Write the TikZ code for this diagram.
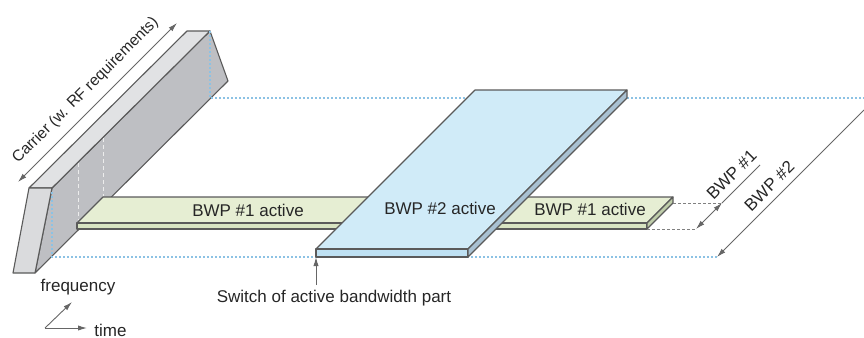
\documentclass[tikz,border=0pt]{standalone}
\usepackage{fontspec}
\setmainfont{Liberation Sans}
\usetikzlibrary{arrows.meta,calc}
\definecolor{edgegray}{HTML}{5A5A5A}
\definecolor{cartop}{HTML}{E1E2E4}
\definecolor{carside}{HTML}{BEBFC3}
\definecolor{carend}{HTML}{DADBDD}
\definecolor{bwpgreen}{HTML}{E6EED3}
\definecolor{bwpgreenfront}{HTML}{D8E4C2}
\definecolor{bwpgreenside}{HTML}{BFCDAA}
\definecolor{bwpblue}{HTML}{D0EBF8}
\definecolor{bwpbluefront}{HTML}{BFE1F3}
\definecolor{bwpblueside}{HTML}{A9C1D2}
\definecolor{hintblue}{HTML}{8CC2E4}

\begin{document}
\begin{tikzpicture}[
  x=0.5pt, y=-0.5pt,
  >={Latex[length=4.5pt,width=2.6pt]},
  face/.style={draw=edgegray, line width=0.55pt, line join=round},
  hint/.style={draw=hintblue, line width=0.6pt, dash pattern=on 1pt off 1pt},
  hidden/.style={draw=white!85!gray, line width=0.5pt, dash pattern=on 2pt off 1.5pt},
  guide/.style={draw=gray, line width=0.4pt, dash pattern=on 1.5pt off 1pt},
  dim/.style={draw=black!60, line width=0.45pt},
  lbl/.style={font=\fontsize{8.5}{10}\selectfont, text=black!85, inner sep=1pt}
]
  \useasboundingbox (0,0) rectangle (864,338);

  % Carrier block
  \coordinate (c1) at (29,188);
  \coordinate (c2) at (52,188);
  \coordinate (c3) at (35,273);
  \coordinate (c4) at (13,273);
  \coordinate (c5) at (187,31);
  \coordinate (c6) at (210,31);
  \coordinate (c7) at (228,81);
  \draw[face, fill=carside] (c2) -- (c6) -- (c7) -- (c3) -- cycle;
  \draw[face, fill=cartop] (c1) -- (c2) -- (c6) -- (c5) -- cycle;
  \draw[face, fill=carend] (c1) -- (c2) -- (c3) -- (c4) -- cycle;

  % Hidden lines and extents
  \draw[hidden] (78,163) -- (78,220);
  \draw[hidden] (103,138) -- (103,196);
  \coordinate (hb0) at (52,257);
  \coordinate (hb1) at (717,257);
  \coordinate (ht0) at (210,98);
  \coordinate (ht1) at (864,98);
  \draw[hint] (52,192) -- (hb0) -- (hb1);
  \draw[hint] (c6) -- (ht0) -- (ht1);

  % BWP #1 strip
  \coordinate (g1) at (77,223);
  \coordinate (g2) at (647,223);
  \coordinate (g3) at (673,197);
  \coordinate (g4) at (103,197);
  \coordinate (g5) at (647,229);
  \coordinate (g6) at (77,229);
  \coordinate (g7) at (673,203);
  \draw[face, fill=bwpgreen] (g1) -- (g2) -- (g3) -- (g4) -- cycle;
  \draw[face, fill=bwpgreenfront] (g1) -- (g2) -- (g5) -- (g6) -- cycle;
  \draw[face, fill=bwpgreenside] (g2) -- (g3) -- (g7) -- (g5) -- cycle;

  % BWP #2 plate
  \coordinate (b1) at (316,249);
  \coordinate (b2) at (468,249);
  \coordinate (b3) at (627,90);
  \coordinate (b4) at (475,90);
  \coordinate (b5) at (468,257);
  \coordinate (b6) at (316,257);
  \coordinate (b7) at (627,98);
  \draw[face, fill=bwpblue] (b1) -- (b2) -- (b3) -- (b4) -- cycle;
  \draw[face, fill=bwpbluefront] (b1) -- (b2) -- (b5) -- (b6) -- cycle;
  \draw[face, fill=bwpblueside] (b2) -- (b3) -- (b7) -- (b5) -- cycle;

  \node[lbl] (left1) at (248,210) {BWP \#1 active};
  \node[lbl] (mid2) at (440,208) {BWP \#2 active};
  \node[lbl] (right1) at (590,209) {BWP \#1 active};

  % Carrier dimension
  \coordinate (ca0) at (18,182);
  \coordinate (ca1) at (177,23);
  \draw[dim, <->] (ca0) -- node[lbl, font=\fontsize{7.8}{9}\selectfont, sloped, above=3.5pt, pos=0.5] (carrier) {Carrier (w. RF requirements)} (ca1);

  % BWP dimensions
  \coordinate (d1) at (722,203);
  \coordinate (d2) at (696,229);
  \coordinate (d3) at (760,165);
  \draw[guide] (g7) -- (d1);
  \draw[guide] (g5) -- (d2);
  \draw[dim, <->] (d2) -- (d1);
  \draw[dim] (d1) -- node[lbl, sloped, above=2.5pt, pos=0.5] (bwp1) {BWP \#1} (d3);
  \coordinate (e1) at (864,110);
  \draw[dim, ->] (e1) -- node[lbl, sloped, above=2.5pt, pos=0.58] (bwp2) {BWP \#2} (hb1);

  % Switch marker
  \coordinate (sw) at (316,285);
  \draw[dim, ->] (sw) -- (b6);
  \node[lbl] (switch) at (334,298) {Switch of active bandwidth part};

  % Axes legend
  \coordinate (lg) at (45,328);
  \coordinate (lgt) at (87,328);
  \coordinate (lgf) at (72,302);
  \draw[dim, ->] (lg) -- (lgt);
  \draw[dim, ->] (lg) -- (lgf);
  \node[lbl, anchor=west] (time) at (92,330) {time};
  \node[lbl] (freq) at (78,287) {frequency};
\end{tikzpicture}
\end{document}
